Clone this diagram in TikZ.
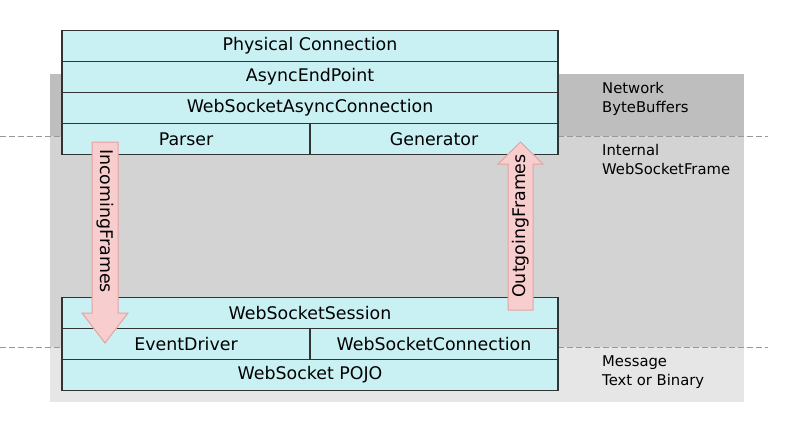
\documentclass[tikz,border=0pt]{standalone}
\usepackage{fontspec}
\setmainfont{DejaVu Sans}
\definecolor{bandA}{HTML}{BEBEBE}
\definecolor{bandB}{HTML}{D3D3D3}
\definecolor{bandC}{HTML}{E6E6E6}
\definecolor{boxfill}{HTML}{C9F1F3}
\definecolor{boxline}{HTML}{333333}
\definecolor{arrfill}{HTML}{F7CDCD}
\definecolor{arrline}{HTML}{E5A3A3}
\definecolor{dashc}{HTML}{999999}
\tikzset{
  rowbox/.style={draw=boxline, fill=boxfill, line width=1.6pt, minimum height=31pt, inner sep=0pt, font=\fontsize{17.4}{20}\selectfont},
  full/.style={rowbox, minimum width=496pt},
  half/.style={rowbox, minimum width=248pt},
  sidelabel/.style={anchor=base west, inner sep=0pt, font=\fontsize{14.8}{18}\selectfont},
  fatarrow/.style={fill=arrfill, draw=arrline, line width=1pt},
  arrtext/.style={inner sep=0pt, font=\fontsize{17.4}{20}\selectfont},
  sepline/.style={draw=dashc, line width=1pt, dash pattern=on 6pt off 3pt}
}
\begin{document}
\begin{tikzpicture}[x=1pt,y=-1pt]
\useasboundingbox (0,0) rectangle (800,434);
% background bands
\fill[bandA] (50,74) rectangle (744,136);
\fill[bandB] (50,136) rectangle (744,347);
\fill[bandC] (50,347) rectangle (744,402);
\coordinate (d1a) at (0,136);
\coordinate (d1b) at (768,136);
\coordinate (d2a) at (0,347);
\coordinate (d2b) at (768,347);
\draw[sepline] (d1a) -- (d1b);
\draw[sepline] (d2a) -- (d2b);
% side labels
\node[sidelabel] (net1) at (602,93) {Network};
\node[sidelabel] (net2) at (602,112) {ByteBuffers};
\node[sidelabel] (int1) at (602,155) {Internal};
\node[sidelabel] (int2) at (602,174) {WebSocketFrame};
\node[sidelabel] (msg1) at (602,366) {Message};
\node[sidelabel] (msg2) at (602,385) {Text or Binary};
% top stack
\node[full] (phys) at (310,46) {Physical Connection};
\node[full] (aep) at (310,77) {AsyncEndPoint};
\node[full] (wsac) at (310,108) {WebSocketAsyncConnection};
\node[half] (parser) at (186,139) {Parser};
\node[half] (gen) at (434,139) {Generator};
% bottom stack
\node[full] (sess) at (310,313) {WebSocketSession};
\node[half] (evd) at (186,344) {EventDriver};
\node[half] (wsc) at (434,344) {WebSocketConnection};
\node[full] (pojo) at (310,375) {WebSocket POJO};
% arrows
\draw[fatarrow] (92,142) -- (118,142) -- (118,313) -- (128,313) -- (105,343) -- (82,313) -- (92,313) -- cycle;
\node[arrtext, rotate=-90] (inc) at (105,221) {IncomingFrames};
\draw[fatarrow] (508,310) -- (533,310) -- (533,164) -- (543,164) -- (520.5,142) -- (498,164) -- (508,164) -- cycle;
\node[arrtext, rotate=90] (out) at (520.5,226) {OutgoingFrames};
\end{tikzpicture}
\end{document}
